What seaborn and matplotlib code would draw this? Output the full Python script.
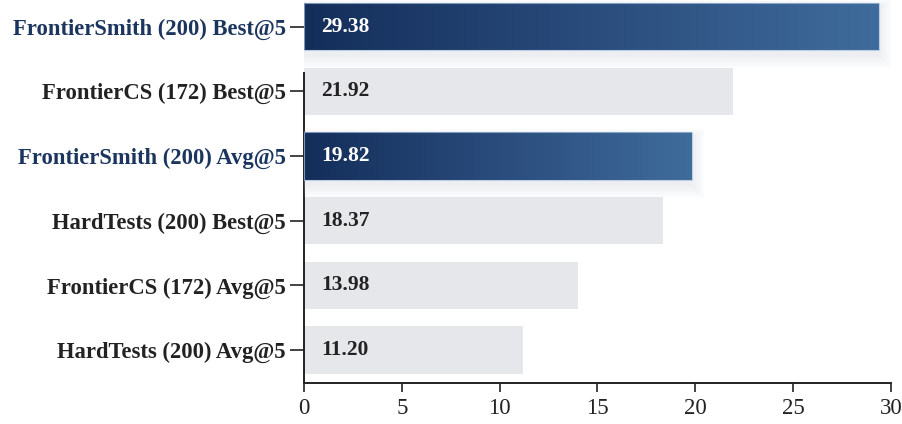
import numpy as np
import pandas as pd
import matplotlib
matplotlib.use("Agg")
import matplotlib.pyplot as plt
from matplotlib.patches import Rectangle
from matplotlib.colors import LinearSegmentedColormap
import seaborn as sns

labels = ["FrontierSmith (200) Best@5", "FrontierCS (172) Best@5", "FrontierSmith (200) Avg@5",
          "HardTests (200) Best@5", "FrontierCS (172) Avg@5", "HardTests (200) Avg@5"]
values = [29.38, 21.92, 19.82, 18.37, 13.98, 11.20]
highlight = [True, False, True, False, False, False]
xticks = [0, 5, 10, 15, 20, 25, 30]

sns.set_theme(style="white")
plt.rcParams['font.family'] = ['Liberation Serif', 'DejaVu Serif']
plt.rcParams['font.weight'] = 'bold'

NAVY = "#1b355f"
GRAY_BAR = "#e6e7ea"
TEXT_DARK = "#222222"

df = pd.DataFrame({"label": labels, "value": values})
palette = {l: (NAVY if h else GRAY_BAR) for l, h in zip(labels, highlight)}

fig = plt.figure(figsize=(9.03, 4.24), dpi=100)
ax = fig.add_axes([304/903, 41/424, 587/903, 383/424])

sns.barplot(data=df, x="value", y="label", hue="label", palette=palette, order=labels,
            width=0.73, legend=False, ax=ax, saturation=1, edgecolor="none", linewidth=0)

cmap = LinearSegmentedColormap.from_list("g", ["#142e5a", "#2a4c7c", "#3f6c9c"])
grad = np.linspace(0, 1, 256).reshape(1, -1)

for patch, h in zip(ax.patches, highlight):
    patch.set_zorder(3 if h else 2)
    if h:
        x0, y0 = patch.get_x(), patch.get_y()
        w, hh = patch.get_width(), patch.get_height()
        # soft diffuse shadow, offset downward
        for k in range(8):
            g = (k + 1) / 8.0
            ex = 0.9 * g
            ey = 0.22 * g
            sh = Rectangle((x0 - ex * 0.3, y0 - ey * 0.5 + 0.06), w + ex * 1.0, hh + ey * 1.5,
                           facecolor="#c9d0dc", alpha=0.045, edgecolor="none", zorder=2.8)
            ax.add_patch(sh)
        im = ax.imshow(grad, extent=[x0, x0 + w, y0 + hh, y0], cmap=cmap, aspect="auto",
                       zorder=3.1, interpolation="bicubic")
        im.set_clip_path(patch)
        edge = Rectangle((x0, y0), w, hh, facecolor="none", edgecolor="#a9c0dc",
                         linewidth=0.8, alpha=0.7, zorder=3.2)
        ax.add_patch(edge)

for i, (v, h) in enumerate(zip(values, highlight)):
    ax.annotate(f"{v:.2f}", xy=(0, i), xytext=(17, 0), textcoords="offset pixels",
                va="center", ha="left", fontsize=15.5, fontweight="bold",
                color="white" if h else TEXT_DARK, zorder=5)

ax.set_xlim(0, 30)
ax.set_ylim(5.51, -0.41)
ax.set_xticks(xticks)
ax.set_xticklabels([str(t) for t in xticks], fontsize=16.5, fontweight="normal", color=TEXT_DARK)
ax.set_xlabel("")
ax.set_ylabel("")
ax.tick_params(axis="y", length=10, width=1.2, color=TEXT_DARK, pad=3, left=True)
ax.tick_params(axis="x", length=6.5, width=1.2, color=TEXT_DARK, pad=4, bottom=True)
for lbl, h in zip(ax.get_yticklabels(), highlight):
    lbl.set_fontsize(16.3)
    lbl.set_fontweight("bold")
    lbl.set_color(NAVY if h else TEXT_DARK)

for s in ["top", "right"]:
    ax.spines[s].set_visible(False)
for s in ["left", "bottom"]:
    ax.spines[s].set_color(TEXT_DARK)
    ax.spines[s].set_linewidth(1.4)
ax.spines["left"].set_bounds(5.51, 0.72)
ax.spines["left"].set_zorder(2.5)
ax.spines["bottom"].set_zorder(4)

fig.savefig("out.png", dpi=100, facecolor="white")
